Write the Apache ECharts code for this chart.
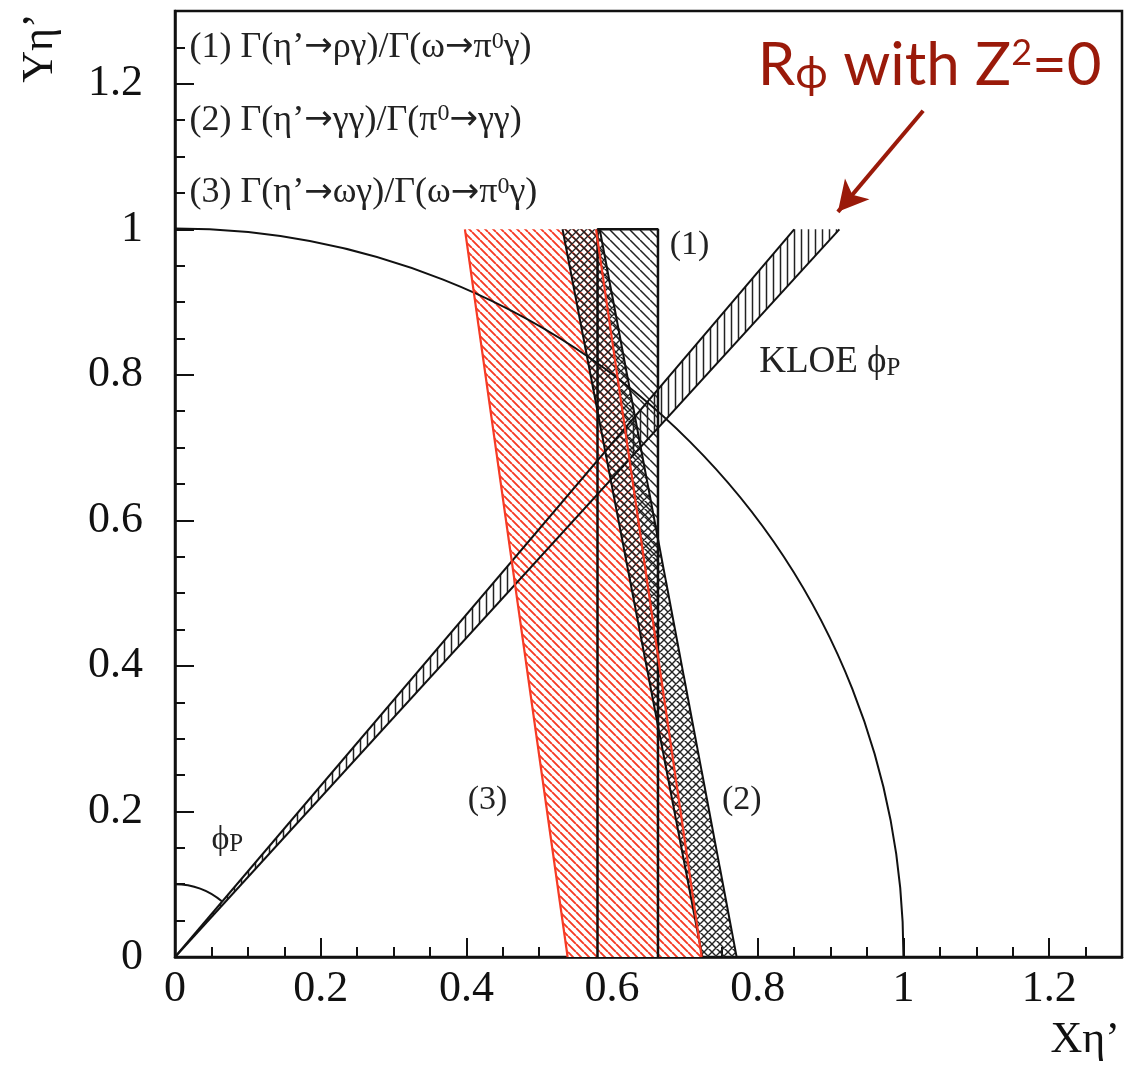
<!doctype html>
<html lang="en">
<head>
  <meta charset="UTF-8">
  <title>eta' mixing plane</title>
  <script src="https://cdn.jsdelivr.net/npm/echarts@6/dist/echarts.min.js"></script>
  <style>
    * {
      margin: 0;
      padding: 0;
    }

    body {
      background: #fff;
    }

    #chart {
      width: 1124px;
      height: 1065px;
    }
  </style>
</head>
<body>
<div id="chart"></div>
<script>
  // axes
  const axisMax = 1.3
  const majorStep = 0.2
  const minorStep = 0.05

  // unit circle X^2 + Y^2 = 1, and the small phi_P angle marker
  const circleRadius = 1
  const angleRadius = 0.1

  // KLOE phi_P band (wedge from the origin)
  const kloeBand = [[0, 0], [0.850, 1.0], [0.912, 1.0]]
  // (1) rho gamma : vertical box
  const band1 = [[0.580, 0], [0.580, 1.0], [0.663, 1.0], [0.663, 0]]
  // (2) gamma gamma : slanted band
  const band2 = [[0.724, 0], [0.532, 1.0], [0.583, 1.0], [0.771, 0]]
  // (3) omega gamma : slanted band, red
  const band3 = [[0.539, 0], [0.398, 1.0], [0.578, 1.0], [0.723, 0]]

  // red arrow pointing at the band end
  const arrowFrom = [1.027, 1.163]
  const arrowTo = [0.910, 1.024]

  // text notes: [x, y, text]
  const legendNotes = [
    [0.02, 1.25, '{g|(1) Γ(η’}{ar|→}{g|ργ)/Γ(ω}{ar|→}{g|π}{s|0}{g|γ)}'],
    [0.02, 1.15, '{g|(2) Γ(η’}{ar|→}{g|γγ)/Γ(π}{s|0}{ar|→}{g|γγ)}'],
    [0.02, 1.05, '{g|(3) Γ(η’}{ar|→}{g|ωγ)/Γ(ω}{ar|→}{g|π}{s|0}{g|γ)}']
  ]
  const leftNotes = [
    [0.679, 0.978, '{a|(1)}'],
    [0.802, 0.817, '{k|KLOE ϕ}{b|P}'],
    [0.050, 0.161, '{a|ϕ}{b|P}']
  ]
  const centerNotes = [
    [0.429, 0.216, '{a|(3)}'],
    [0.778, 0.216, '{a|(2)}']
  ]
  const redNote = [0.800, 1.225, '{r|R}{rs|ϕ}{r| with Z}{rp|2}{r|=0}']

  const RED = '#f63a24'
  const DARKRED = '#9a1a0a'
  const SERIF = 'Liberation Serif'

  function hatch(color, kinds, step, lw, bg) {
    const c = document.createElement('canvas')
    c.width = step
    c.height = step
    const g = c.getContext('2d')
    if (bg) {
      g.fillStyle = bg
      g.fillRect(0, 0, step, step)
    }
    g.strokeStyle = color
    g.lineWidth = lw
    g.beginPath()
    kinds.forEach(k => {
      for (const o of [-step, 0, step]) {
        if (k === '\\') {
          g.moveTo(o, 0)
          g.lineTo(o + step, step)
        }
        if (k === '/') {
          g.moveTo(o, step)
          g.lineTo(o + step, 0)
        }
      }
      if (k === '|') {
        g.moveTo(step / 2, 0)
        g.lineTo(step / 2, step)
      }
    })
    g.stroke()
    return {image: c, repeat: 'repeat'}
  }

  function areaSeries(points, fill) {
    return {
      type: 'custom',
      data: points,
      silent: true,
      renderItem: (params, api) => {
        if (params.dataIndex !== 0) return null
        return {
          type: 'polygon',
          shape: {points: points.map(p => api.coord(p))},
          style: {fill: fill, stroke: null}
        }
      }
    }
  }

  function edgeSeries(points, color, width) {
    return {
      type: 'line',
      data: points,
      symbol: 'none',
      silent: true,
      lineStyle: {color: color, width: width}
    }
  }

  function arcSeries(r, toPoint) {
    return {
      type: 'custom',
      data: [[0, 0]],
      silent: true,
      renderItem: (params, api) => {
        const c = api.coord([0, 0])
        const end = api.coord(toPoint)
        const px = api.size([r, r])
        return {
          type: 'arc',
          shape: {
            cx: c[0], cy: c[1], r: px[0],
            startAngle: -Math.PI / 2,
            endAngle: Math.atan2(end[1] - c[1], end[0] - c[0]),
            clockwise: true
          },
          style: {fill: null, stroke: '#111', lineWidth: 2}
        }
      }
    }
  }

  const richStyle = {
    g: {fontFamily: SERIF, fontSize: 36, fill: '#222'},
    a: {fontFamily: SERIF, fontSize: 34, fill: '#222'},
    k: {fontFamily: SERIF, fontSize: 37, fill: '#222'},
    ar: {fontFamily: 'DejaVu Sans', fontSize: 34, fill: '#222'},
    s: {fontFamily: SERIF, fontSize: 24, fill: '#222', verticalAlign: 'top'},
    b: {fontFamily: SERIF, fontSize: 25, fill: '#222', verticalAlign: 'bottom'},
    r: {fontFamily: 'Lato', fontSize: 60, fill: DARKRED},
    rs: {fontFamily: 'Lato', fontSize: 44, fill: DARKRED, verticalAlign: 'bottom'},
    rp: {fontFamily: 'Lato', fontSize: 36, fill: DARKRED, verticalAlign: 'top'}
  }

  function textSeries(notes, align) {
    return {
      type: 'custom',
      data: notes.map(n => [n[0], n[1]]),
      silent: true,
      renderItem: (params, api) => {
        const n = notes[params.dataIndex]
        const p = api.coord([n[0], n[1]])
        return {
          type: 'text',
          x: p[0],
          y: p[1],
          style: {
            text: n[2],
            rich: richStyle,
            align: align,
            verticalAlign: 'middle'
          }
        }
      }
    }
  }

  function axisPair(dim) {
    const isX = dim === 'x'
    const major = {
      type: 'value',
      position: isX ? 'bottom' : 'left',
      min: 0,
      max: axisMax,
      interval: majorStep,
      axisLine: {show: true, onZero: false, lineStyle: {color: '#111', width: 2.5}},
      axisTick: {show: true, inside: true, length: 19, lineStyle: {color: '#111', width: 2}},
      splitLine: {show: false},
      axisLabel: {
        showMaxLabel: false,
        fontFamily: SERIF,
        fontSize: 44,
        color: '#111',
        margin: isX ? 10 : 32
      }
    }
    const minor = {
      type: 'value',
      position: isX ? 'bottom' : 'left',
      min: 0,
      max: axisMax,
      interval: minorStep,
      axisLine: {show: false, onZero: false},
      axisTick: {show: true, inside: true, length: 10, lineStyle: {color: '#111', width: 2}},
      splitLine: {show: false},
      axisLabel: {show: false}
    }
    return [major, minor]
  }

  const chart = echarts.init(document.getElementById('chart'), null, {renderer: 'canvas'})

  const series = [
    areaSeries(band1, hatch('#222', ['\\'], 10, 1.5)),
    areaSeries(kloeBand, hatch('#222', ['|'], 7, 1.5)),
    // red band is opaque: it hides the hatching drawn under it
    areaSeries(band3, hatch(RED, ['\\'], 8, 1.9, '#fff')),
    areaSeries(band2, hatch('#222', ['\\', '/'], 8, 1.4)),
    arcSeries(circleRadius, [1, 0]),
    arcSeries(angleRadius, kloeBand[1]),
    edgeSeries([kloeBand[0], kloeBand[1]], '#111', 2),
    edgeSeries([kloeBand[0], kloeBand[2]], '#111', 2),
    edgeSeries(band1, '#111', 2.5),
    edgeSeries([band2[0], band2[1]], '#111', 2),
    edgeSeries([band2[2], band2[3]], '#111', 2),
    edgeSeries([band3[0], band3[1]], RED, 2.2),
    edgeSeries([band3[2], band3[3]], RED, 2.2),
    textSeries(legendNotes, 'left'),
    textSeries(leftNotes, 'left'),
    textSeries(centerNotes, 'center'),
    textSeries([redNote], 'left'),
    {
      type: 'line',
      data: [],
      silent: true,
      markLine: {
        silent: true,
        symbol: ['none', 'arrow'],
        symbolSize: [24, 30],
        label: {show: false},
        lineStyle: {color: DARKRED, width: 4, type: 'solid'},
        data: [[{coord: arrowFrom}, {coord: arrowTo}]]
      }
    }
  ]
  series.forEach(s => {
    s.xAxisIndex = 0
    s.yAxisIndex = 0
    s.animation = false
  })

  chart.setOption({
    backgroundColor: '#fff',
    animation: false,
    grid: {
      left: 175, top: 11, width: 947, height: 946,
      show: true, borderColor: '#111', borderWidth: 2.5
    },
    xAxis: axisPair('x'),
    yAxis: axisPair('y'),
    graphic: [
      {
        type: 'text', x: 1120, y: 1040,
        style: {text: 'Xη’', font: '44px "Liberation Serif"', fill: '#111', align: 'right', verticalAlign: 'middle'}
      },
      {
        type: 'text', x: 40, y: 48, rotation: Math.PI / 2,
        style: {text: 'Yη’', font: '44px "Liberation Serif"', fill: '#111', align: 'center', verticalAlign: 'middle'}
      }
    ],
    series: series
  })
</script>
</body>
</html>
